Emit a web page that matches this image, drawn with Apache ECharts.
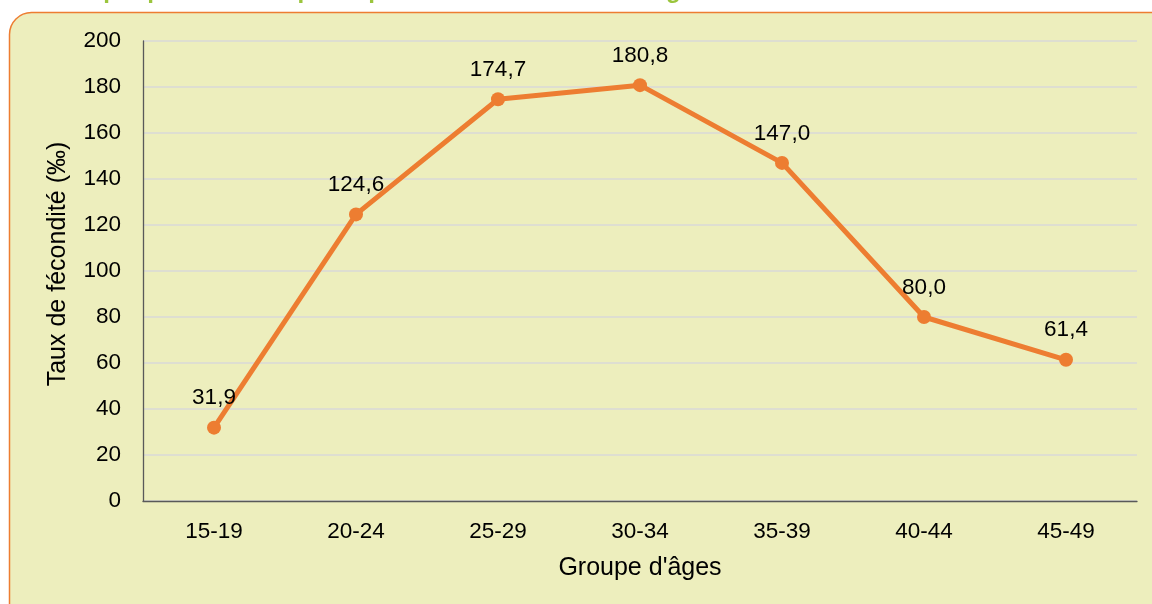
<!DOCTYPE html>
<html><head><meta charset="utf-8">
<script src="https://cdn.jsdelivr.net/npm/echarts@6/dist/echarts.min.js"></script>
<style>html,body{margin:0;padding:0;background:#fff}#c{width:1152px;height:604px}</style>
</head><body><div id="c"></div>
<script>
const categories = ['15-19','20-24','25-29','30-34','35-39','40-44','45-49'];
const values = [31.9, 124.6, 174.7, 180.8, 147.0, 80.0, 61.4];
const yTicks = [0, 20, 40, 60, 80, 100, 120, 140, 160, 180, 200];
const titleText = "Graphique 1 : Taux spécifiques de fécondité selon l'âge";
const xName = "Groupe d'âges";
const yName = "Taux de fécondité (‰)";

const chart = echarts.init(document.getElementById('c'));
const font = '"Liberation Sans", Arial, sans-serif';
chart.setOption({
  backgroundColor: '#ffffff',
  animation: false,
  graphic: [
    { type: 'rect', z: -10, shape: { x: 9.5, y: 12.5, width: 1170, height: 620, r: 22 },
      style: { fill: '#EDEEBD', stroke: '#ED7D31', lineWidth: 1.5 } },
    { type: 'text', left: 62, top: -21, z: 5,
      style: { text: titleText, fill: '#9BC53D', font: 'bold 24px ' + font } }
  ],
  grid: { left: 143, right: 15, top: 41, bottom: 103 },
  xAxis: {
    type: 'category', data: categories, boundaryGap: true,
    name: xName, nameLocation: 'middle', nameGap: 55,
    nameTextStyle: { fontFamily: font, fontSize: 25, color: '#000' },
    axisLine: { lineStyle: { color: '#595959', width: 1.3 } },
    axisTick: { show: false },
    axisLabel: { fontFamily: font, fontSize: 22.5, color: '#000', margin: 19 }
  },
  yAxis: {
    type: 'value', min: yTicks[0], max: yTicks[yTicks.length - 1], interval: 20,
    name: yName, nameLocation: 'middle', nameGap: 72,
    nameTextStyle: { fontFamily: font, fontSize: 25, color: '#000', padding: [0, 0, 0, 14] },
    axisLine: { show: true, lineStyle: { color: '#595959', width: 1.3 } },
    axisTick: { show: false },
    axisLabel: { fontFamily: font, fontSize: 22.5, color: '#000', margin: 22 },
    splitLine: { lineStyle: { color: '#D9D9D9', width: 1.5 } }
  },
  series: [{
    type: 'line', data: values,
    lineStyle: { color: '#ED7D31', width: 5 },
    itemStyle: { color: '#ED7D31' },
    symbol: 'circle', symbolSize: 14,
    label: { show: true, position: 'top', distance: 11, fontFamily: font, fontSize: 22.5, color: '#000',
      formatter: p => p.value.toFixed(1).replace('.', ',') }
  }]
});
</script></body></html>
